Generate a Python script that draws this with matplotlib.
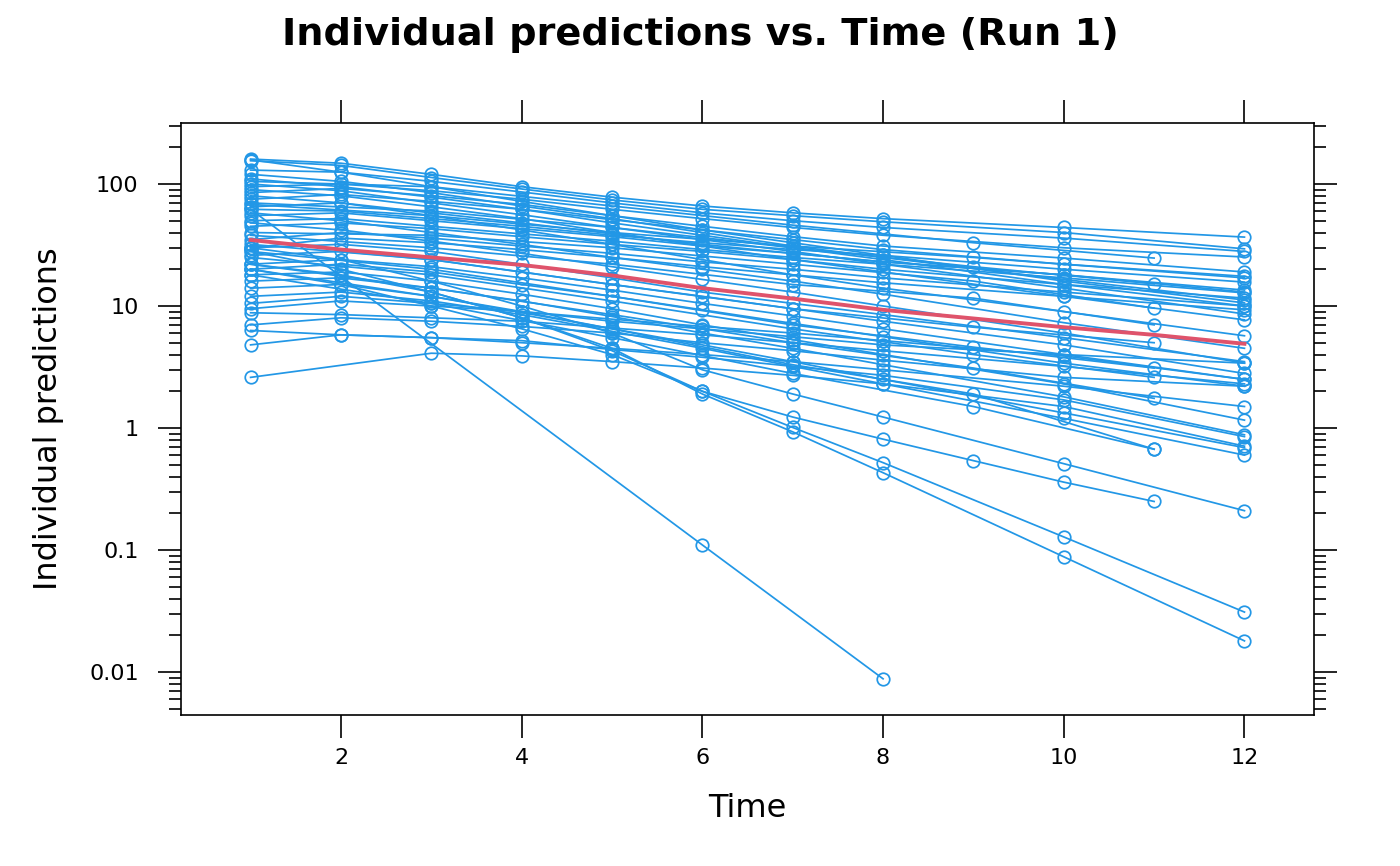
import matplotlib
matplotlib.use("Agg")
import matplotlib.pyplot as plt
import matplotlib.ticker as mticker
import numpy as np

nan = np.nan
times = [1, 2, 3, 4, 5, 6, 7, 8, 9, 10, 11, 12]

# individual predictions per subject, one row per ID (nan = not sampled)
high_ids = [
    [160, 148, 120, 95, 78, 66, 58, 52, nan, 44, nan, 36.7],
    [155, 142, 113, 91, 74, 62, 55, 49, nan, 40, nan, 29.4],
    [130, 125, 105, 86, 70, 58, 50, 44, nan, 36, nan, 28],
    [95, 100, 88, 75, 62, 52, 44, 38, nan, 30, nan, 25.2],
    [85, 92, 80, 68, 55, 45, 37, 31, nan, 24.7, nan, 19.0],
    [75, 82, 72, 62, 51, 42, 35, 29, nan, 22, nan, 17.5],
    [65, 70, 58, 48, 39, 32, 27, 23, nan, 18, nan, 13.0],
    [158, 125, 95, 72, 55, 42, 33, 26, nan, 16, nan, 10.6],
    [120, 105, 85, 66, 52, 40, 31, 25, nan, 16.5, nan, 11.2],
    [110, 95, 78, 62, 48, 38, 30, 24, nan, 15, nan, 10.0],
    [100, 88, 70, 56, 44, 35, 28, 22, nan, 14, nan, 8.6],
    [90, 80, 65, 52, 40, 31, 24, 19, nan, 12, nan, 7.7],
    [80, 70, 55, 42, 32, 24, 18, 14, nan, 9, nan, 5.7],
]

mid_ids = [
    [62, 60, 52, 45, 38, 33, 29, 26, nan, 20, nan, 15.7],
    [55, 58, 50, 43, 37, 31, 27, 23, nan, 18, nan, 13.5],
    [50, 52, 45, 39, 34, 29, 25, 22, nan, 17, nan, 12.8],
    [45, 48, 43, 37, 32, 28, 24, 20, nan, 15, nan, 11.6],
    [35, 40, 36, 31, 27, 23, 20, 17, nan, 13, nan, 10.0],
    [30, 36, 33, 29, 25, 21, 18, 15.5, nan, 12, nan, 9.3],
    [58, 50, 40, 32, 25, 20, 16, 12.5, nan, 7.3, nan, 4.5],
    [48, 42, 34, 27, 21, 16.5, 13, 10, nan, 6.0, nan, 3.4],
    [30, 32, 28, 22, 17, 13, 10.5, 8.5, nan, 5.5, nan, 3.5],
    [26, 28, 24, 19, 15, 12, 9.5, 7.5, nan, 4.8, nan, 2.8],
    [22, 24, 21, 17, 13.5, 10.5, 8.3, 6.5, nan, 4.0, nan, 2.5],
    [20, 22, 19, 15, 12, 9.3, 7.2, 5.6, nan, 3.4, nan, 2.2],
    [18, 19, 16, 12.5, 9.5, 7, 5.3, 4.0, nan, 2.3, nan, 1.16],
    [16, 17, 14, 11, 8.2, 6, 4.5, 3.3, nan, 1.8, nan, 0.88],
    [14, 15, 12, 9, 6.5, 4.8, 3.5, 2.5, nan, 1.33, nan, 0.69],
    [12, 13, 11, 8.5, 6.2, 4.5, 3.2, 2.3, nan, 1.2, nan, 0.6],
    [10.5, 12, 10.5, 9, 7.5, 6.5, 5.6, 4.8, nan, 4.0, nan, 3.4],
]

# IDs sampled at odd times only
sparse_ids = [
    [105, nan, 95, nan, 66, nan, 46, nan, 33, nan, 24.7, nan],
    [70, nan, 60, nan, 44, nan, 30, nan, 21, nan, 15.2, nan],
    [40, nan, 38, nan, 30, nan, 22, nan, 16, nan, 9.6, nan],
    [68, nan, 55, nan, 40, nan, 31, nan, 25, nan, nan, 17],
    [38, nan, 30, nan, 22, nan, 15, nan, 11.6, nan, 7.0, nan],
    [32, nan, 24, nan, 15, nan, 9.5, nan, 6.7, nan, 5.0, nan],
    [28, nan, 20, nan, 12, nan, 7, nan, 4.6, nan, 3.1, nan],
    [25, nan, 18, nan, 11, nan, 6.5, nan, 4.0, nan, 2.6, nan],
    [22, nan, 14, nan, 8.5, nan, 5, nan, 3.1, nan, 1.75, nan],
    [20, nan, 12, nan, 6.5, nan, 3.3, nan, 1.9, nan, 0.67, nan],
    [18, nan, 10.5, nan, 5.5, nan, 2.8, nan, 1.5, nan, 0.67, nan],
]

low_ids = [
    [9.5, 11, 10, 9, 7.8, 6.8, 6, 5.2, nan, 3.9, nan, 2.5],
    [8.8, 8.5, 8, 7.5, 6.6, 5.8, 5, 4.3, nan, 3.2, nan, 2.3],
    [7, 8, 7.5, 6.8, 6, 5, 4.3, 3.6, nan, 2.6, nan, 2.2],
    [6.3, 5.8, 5.5, 5, 4.5, 4, 3.5, 3, nan, 2.2, nan, 1.5],
    [4.8, 5.8, 5.5, 5.2, 4.4, 3.8, 3.2, 2.7, nan, 1.7, nan, 0.85],
    [2.6, nan, 4.1, 3.9, 3.5, 3.1, 2.7, 2.3, nan, 1.5, nan, 0.71],
]

fast_ids = [
    [22, 18, 13, 8, 4.5, 1.9, 0.93, 0.43, nan, 0.088, nan, 0.018],
    [28, 20, 13, 8, 4.3, 2.0, 1.01, 0.52, nan, 0.128, nan, 0.031],
    [20, 15, 10, 6.5, 4.0, 2.0, 1.23, 0.81, 0.54, 0.36, 0.25, nan],
    [30, 24, 16, 10, 6, 3.0, 1.9, 1.23, nan, 0.51, nan, 0.21],
    [62, nan, nan, nan, nan, 0.11, nan, 0.0088, nan, nan, nan, nan],
]

# smooth trend (red)
trend = [34.8, 29, 25, 21.7, 17.8, 14, 11.5, 9.3, 7.9, 6.7, 5.8, 4.9]

blue = "#2297E6"
red = "#DF536B"

fig = plt.figure(figsize=(14, 8.66), dpi=100)
ax = fig.add_axes([0.1293, 0.1744, 0.8093, 0.6836])

t = np.array(times, dtype=float)
for row in high_ids + mid_ids + sparse_ids + low_ids + fast_ids:
    v = np.array(row, dtype=float)
    m = ~np.isnan(v)
    ax.plot(t[m], v[m], color=blue, lw=1.25, marker="o", ms=9,
            mfc="none", mec=blue, mew=1.25)

ax.plot(times, trend, color=red, lw=2.8)

ax.set_yscale("log")
ax.set_xlim(0.23, 12.77)
ax.set_ylim(10 ** -2.352, 10 ** 2.5)

ax.set_xticks([2, 4, 6, 8, 10, 12])
ax.yaxis.set_major_locator(mticker.FixedLocator([0.01, 0.1, 1, 10, 100]))
ax.yaxis.set_major_formatter(mticker.FuncFormatter(lambda v, p: f"{v:g}"))
ax.yaxis.set_minor_locator(mticker.LogLocator(base=10, subs=np.arange(2, 10)))
ax.yaxis.set_minor_formatter(mticker.NullFormatter())

ax.tick_params(axis="both", which="major", direction="out", length=16.5,
               width=1.2, labelsize=16, top=True, right=True)
ax.tick_params(axis="x", which="major", pad=7)
ax.tick_params(axis="y", which="major", pad=14)
ax.tick_params(axis="y", which="minor", direction="out", length=8.5,
               width=1.2, right=True)
for s in ax.spines.values():
    s.set_linewidth(1.2)

ax.set_xlabel("Time", fontsize=23, labelpad=18)
ax.set_ylabel("Individual predictions", fontsize=23, labelpad=18)
fig.suptitle("Individual predictions vs. Time (Run 1)", fontsize=27.5,
             fontweight="bold", y=0.98)

fig.savefig("out.png", dpi=100)
